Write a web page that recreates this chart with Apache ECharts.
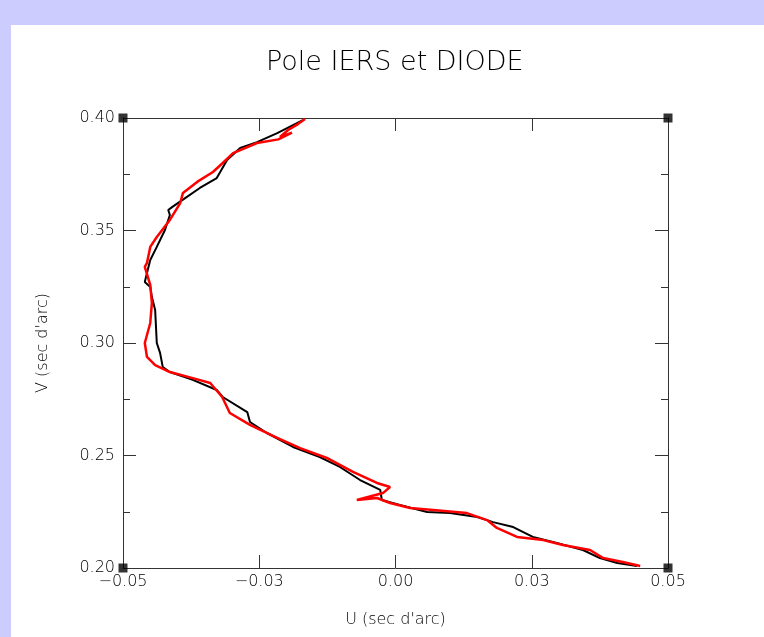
<!DOCTYPE html>
<html>
<head>
<meta charset="utf-8">
<script src="https://cdn.jsdelivr.net/npm/echarts@6/dist/echarts.min.js"></script>
<style>
  html, body { margin: 0; padding: 0; background: #ccccff; width: 764px; height: 637px; overflow: hidden; }
  #main { position: absolute; left: 11px; top: 25px; width: 753px; height: 612px; background: #fff; }
</style>
</head>
<body>
<div id="main"></div>
<script>
// IERS pole path (black)
var iersU = [-0.0170, -0.0217, -0.0254, -0.0285, -0.0309, -0.0328, -0.0359, -0.0386, -0.0410, -0.0417,
  -0.0414, -0.0423, -0.0438, -0.0450, -0.0456, -0.0460, -0.0450, -0.0447, -0.0441, -0.0438,
  -0.0432, -0.0427, -0.0414, -0.0372, -0.0328, -0.0317, -0.0272, -0.0267, -0.0236, -0.0188,
  -0.0139, -0.0102, -0.0065, -0.0028, -0.0025, 0.0008, 0.0058, 0.0100, 0.0150, 0.0179,
  0.0216, 0.0252, 0.0296, 0.0344, 0.0375, 0.0407, 0.0443];
var iersV = [0.3991, 0.3933, 0.3893, 0.3867, 0.3813, 0.3733, 0.3689, 0.3644, 0.3604, 0.3591,
  0.3569, 0.3502, 0.3427, 0.3369, 0.3311, 0.3271, 0.3249, 0.3204, 0.3147, 0.3000,
  0.2956, 0.2893, 0.2871, 0.2836, 0.2791, 0.2760, 0.2693, 0.2649, 0.2600, 0.2538,
  0.2493, 0.2449, 0.2391, 0.2347, 0.2302, 0.2280, 0.2249, 0.2244, 0.2227, 0.2204,
  0.2182, 0.2138, 0.2111, 0.2080, 0.2044, 0.2022, 0.2009];

// DIODE pole path (red)
var diodeU = [-0.0166, -0.0179, -0.0197, -0.0212, -0.0190, -0.0215, -0.0254, -0.0298, -0.0317, -0.0335,
  -0.0364, -0.0390, -0.0395, -0.0414, -0.0438, -0.0450, -0.0456, -0.0460, -0.0450, -0.0447,
  -0.0450, -0.0460, -0.0456, -0.0441, -0.0414, -0.0372, -0.0340, -0.0318, -0.0304, -0.0267,
  -0.0217, -0.0175, -0.0126, -0.0078, -0.0034, -0.0010, -0.0023, -0.0071, -0.0034, -0.0010,
  0.0027, 0.0069, 0.0131, 0.0168, 0.0186, 0.0223, 0.0271, 0.0307, 0.0357, 0.0381,
  0.0417, 0.0449];
var diodeV = [0.3996, 0.3973, 0.3947, 0.3916, 0.3935, 0.3905, 0.3889, 0.3844, 0.3800, 0.3760,
  0.3716, 0.3667, 0.3622, 0.3547, 0.3471, 0.3427, 0.3356, 0.3338, 0.3258, 0.3178,
  0.3089, 0.3000, 0.2938, 0.2902, 0.2871, 0.2844, 0.2822, 0.2760, 0.2689, 0.2636,
  0.2578, 0.2533, 0.2489, 0.2427, 0.2378, 0.2360, 0.2333, 0.2302, 0.2311, 0.2289,
  0.2267, 0.2258, 0.2244, 0.2213, 0.2178, 0.2138, 0.2124, 0.2102, 0.2080, 0.2044,
  0.2027, 0.2009];

// corner markers of the frame
var cornerU = [-0.05, 0.05, -0.05, 0.05];
var cornerV = [0.20, 0.20, 0.40, 0.40];

function pairs(a, b) {
  var res = [];
  for (var i = 0; i < a.length; i++) res.push([a[i], b[i]]);
  return res;
}

var font = 'DejaVu Sans';
var axisCol = '#333';
var txtCol = '#000';

var myChart = echarts.init(document.getElementById('main'));
var option = {
  animation: false,
  title: {
    text: 'Pole IERS et DIODE',
    left: 250,
    top: 19,
    textStyle: { fontFamily: font, fontWeight: 200, fontSize: 27, color: txtCol }
  },
  grid: { left: 112, top: 93, width: 545, height: 450 },
  xAxis: [{
    type: 'value', position: 'bottom', min: -0.05, max: 0.05, interval: 0.025,
    name: "U (sec d'arc)", nameLocation: 'middle', nameGap: 44,
    nameTextStyle: { fontFamily: font, fontWeight: 200, fontSize: 16, color: txtCol },
    axisLine: { onZero: false, lineStyle: { color: axisCol, width: 1 } },
    axisTick: { inside: true, length: 13, lineStyle: { color: axisCol } },
    axisLabel: { margin: 6, fontFamily: font, fontWeight: 200, fontSize: 16, color: txtCol,
      formatter: function (v) { return v.toFixed(2).replace('-', '\u2212'); } },
    splitLine: { show: false }
  }, {
    type: 'value', position: 'top', min: -0.05, max: 0.05, interval: 0.025,
    axisLine: { onZero: false, lineStyle: { color: axisCol, width: 1 } },
    axisTick: { inside: true, length: 13, lineStyle: { color: axisCol } },
    axisLabel: { show: false },
    splitLine: { show: false }
  }],
  yAxis: [{
    type: 'value', position: 'left', min: 0.20, max: 0.40, interval: 0.05,
    name: "V (sec d'arc)", nameLocation: 'middle', nameGap: 72, nameRotate: 90,
    nameTextStyle: { fontFamily: font, fontWeight: 200, fontSize: 16, color: txtCol },
    axisLine: { onZero: false, lineStyle: { color: axisCol, width: 1 } },
    axisTick: { inside: true, length: 13, lineStyle: { color: axisCol } },
    minorTick: { show: true, splitNumber: 2, length: 7, lineStyle: { color: axisCol } },
    axisLabel: { margin: 8, fontFamily: font, fontWeight: 200, fontSize: 16, color: txtCol,
      formatter: function (v) { return v.toFixed(2); } },
    splitLine: { show: false }
  }, {
    type: 'value', position: 'right', min: 0.20, max: 0.40, interval: 0.05,
    axisLine: { onZero: false, lineStyle: { color: axisCol, width: 1 } },
    axisTick: { inside: true, length: 13, lineStyle: { color: axisCol } },
    minorTick: { show: true, splitNumber: 2, length: 7, lineStyle: { color: axisCol } },
    axisLabel: { show: false },
    splitLine: { show: false }
  }],
  series: [{
    name: 'IERS',
    type: 'line',
    data: pairs(iersU, iersV),
    showSymbol: false,
    lineStyle: { color: '#000', width: 2 },
    z: 3
  }, {
    name: 'DIODE',
    type: 'line',
    data: pairs(diodeU, diodeV),
    showSymbol: false,
    lineStyle: { color: '#ff0000', width: 2.5 },
    z: 4
  }, {
    name: 'coins',
    type: 'scatter',
    data: pairs(cornerU, cornerV),
    symbol: 'rect',
    symbolSize: 9,
    itemStyle: { color: '#000' },
    z: 5
  }]
};
myChart.setOption(option);
</script>
</body>
</html>
